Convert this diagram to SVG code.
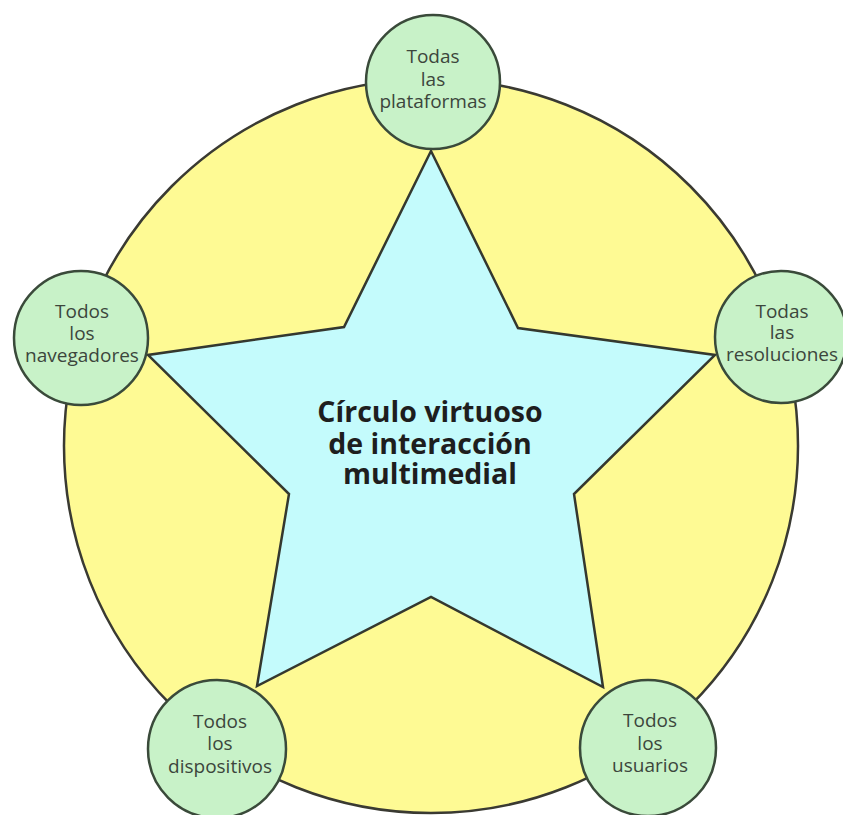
<svg xmlns="http://www.w3.org/2000/svg" width="843" height="815" viewBox="0 0 843 815">
  <style>
    .ring { fill: #fefa94; stroke: #3a3a32; stroke-width: 2.5; }
    .star { fill: #c4fbfc; stroke: #34382f; stroke-width: 2.5; stroke-linejoin: miter; }
    .node circle { fill: #c8f2c8; stroke: #3a4a3a; stroke-width: 2.5; }
    .node text { font-family: "Open Sans", "Liberation Sans", sans-serif; font-size: 19px; fill: #3c463c; text-anchor: middle; }
    .title { font-family: "Open Sans", "Liberation Sans", sans-serif; font-size: 28.5px; font-weight: bold; fill: #1e1e1e; text-anchor: middle; }
  </style>
  <rect width="843" height="815" fill="#ffffff"/>
  <g id="background">
    <circle class="ring" cx="431" cy="446" r="367"/>
  </g>
  <g id="center">
    <polygon class="star" points="431,151 518,328 715,355 574,494 603,687 431,597 257,686 289,494 148,355 344,327"/>
    <text class="title"><tspan x="430" y="422">Círculo virtuoso</tspan><tspan x="430" y="454">de interacción</tspan><tspan x="430" y="484">multimedial</tspan></text>
  </g>
  <g id="node-plataformas" class="node">
    <circle cx="433" cy="82" r="67"/>
    <text><tspan x="433" y="63">Todas</tspan><tspan x="433" y="86">las</tspan><tspan x="433" y="108">plataformas</tspan></text>
  </g>
  <g id="node-navegadores" class="node">
    <circle cx="81" cy="338" r="67"/>
    <text><tspan x="82" y="318">Todos</tspan><tspan x="82" y="340">los</tspan><tspan x="82" y="362">navegadores</tspan></text>
  </g>
  <g id="node-resoluciones" class="node">
    <circle cx="781" cy="337" r="66"/>
    <text><tspan x="782" y="318">Todas</tspan><tspan x="782" y="339">las</tspan><tspan x="782" y="361">resoluciones</tspan></text>
  </g>
  <g id="node-dispositivos" class="node">
    <circle cx="217" cy="749" r="69"/>
    <text><tspan x="220" y="728">Todos</tspan><tspan x="220" y="750">los</tspan><tspan x="220" y="773">dispositivos</tspan></text>
  </g>
  <g id="node-usuarios" class="node">
    <circle cx="648" cy="748" r="68"/>
    <text><tspan x="650" y="727">Todos</tspan><tspan x="650" y="750">los</tspan><tspan x="650" y="772">usuarios</tspan></text>
  </g>
  <g id="connectors"/>
</svg>
